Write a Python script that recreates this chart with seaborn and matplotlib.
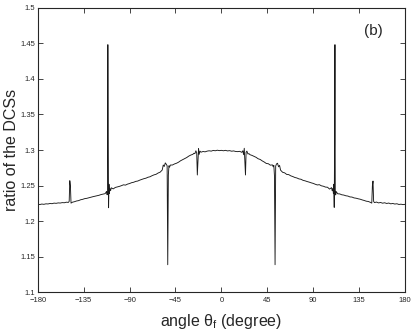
import numpy as np
import pandas as pd
import seaborn as sns
import matplotlib
matplotlib.use("Agg")
import matplotlib.pyplot as plt

sns.set_style("ticks")
plt.rcParams['font.family'] = ['Liberation Sans', 'DejaVu Sans']
plt.rcParams['mathtext.fontset'] = 'custom'
plt.rcParams['mathtext.rm'] = 'Liberation Sans'

# angle (degree) and ratio of the DCSs
angle = [
    -180, -178, -176, -174, -172, -170, -168, -166, -164, -162, -160, -158, -156, -154, -152, -150,
    -149.2, -148.6, -148.0, -147.4, -146, -144, -142, -140, -138, -136, -134, -132, -130, -128,
    -126, -124, -122, -120, -118, -116, -114, -112.5, -112, -111.6, -111.3, -111.0, -110.6, -110.2,
    -109.8, -109.3, -108.6, -108, -106, -104, -102, -100, -98, -96, -94, -92, -90, -88, -86, -84,
    -82, -80, -78, -76, -74, -72, -70, -68, -66, -64, -62, -60, -58, -57, -56, -55, -54, -53.2,
    -52.6, -52.0, -51.4, -50.8, -50, -48, -46, -44, -42, -40, -38, -36, -34, -32, -30, -28, -27,
    -26, -25, -24.2, -23.6, -23.0, -22.4, -21.8, -21, -20, -18, -16, -14, -12, -10, -8, -6, -4,
    -2, 0,
    2, 4, 6, 8, 10, 12, 14, 16, 18, 20, 21, 21.8, 22.4, 23.0, 23.6, 24.2, 25, 26, 27, 28, 30, 32,
    34, 36, 38, 40, 42, 44, 46, 48, 50, 50.8, 51.4, 52.0, 52.6, 53.2, 54, 55, 56, 57, 58, 60, 62,
    64, 66, 68, 70, 72, 74, 76, 78, 80, 82, 84, 86, 88, 90, 92, 94, 96, 98, 100, 102, 104, 106,
    108, 108.6, 109.3, 109.8, 110.2, 110.6, 111.0, 111.3, 111.6, 112, 112.5, 114, 116, 118, 120,
    122, 124, 126, 128, 130, 132, 134, 136, 138, 140, 142, 144, 146, 147.4, 148.0, 148.6, 149.2,
    150, 152, 154, 156, 158, 160, 162, 164, 166, 168, 170, 172, 174, 176, 178, 180,
]
ratio = [
    1.2240, 1.2235, 1.2242, 1.2238, 1.2245, 1.2243, 1.2250, 1.2247, 1.2255, 1.2252, 1.2258, 1.2256,
    1.2262, 1.2260, 1.2268, 1.2265, 1.2280, 1.2570, 1.2500, 1.2255, 1.2268, 1.2275, 1.2285, 1.2290,
    1.2302, 1.2308, 1.2318, 1.2322, 1.2330, 1.2338, 1.2345, 1.2352, 1.2360, 1.2365, 1.2375, 1.2382,
    1.2388, 1.2420, 1.2372, 1.2440, 1.4480, 1.3200, 1.2190, 1.2520, 1.2390, 1.2460, 1.2430, 1.2470,
    1.2455, 1.2475, 1.2482, 1.2490, 1.2500, 1.2512, 1.2508, 1.2522, 1.2530, 1.2542, 1.2548, 1.2560,
    1.2565, 1.2578, 1.2588, 1.2598, 1.2605, 1.2618, 1.2625, 1.2640, 1.2652, 1.2660, 1.2678, 1.2690,
    1.2720, 1.2790, 1.2770, 1.2820, 1.2800, 1.2780, 1.1390, 1.2650, 1.2780, 1.2760, 1.2790, 1.2790,
    1.2805, 1.2815, 1.2830, 1.2850, 1.2865, 1.2880, 1.2895, 1.2915, 1.2930, 1.2940, 1.2955, 1.2950,
    1.2990, 1.2960, 1.2650, 1.2850, 1.3020, 1.2940, 1.2985, 1.2970, 1.2980, 1.2975, 1.2985, 1.2990,
    1.2985, 1.2995, 1.2990, 1.2998, 1.2992, 1.2996,
    1.2990, 1.2996, 1.2988, 1.2992, 1.2984, 1.2988, 1.2980, 1.2978, 1.2982, 1.2968, 1.2990, 1.2935,
    1.3025, 1.2840, 1.2650, 1.2970, 1.2985, 1.2945, 1.2950, 1.2935, 1.2925, 1.2912, 1.2898, 1.2878,
    1.2868, 1.2848, 1.2832, 1.2812, 1.2808, 1.2788, 1.2792, 1.2765, 1.2785, 1.2640, 1.1390, 1.2775,
    1.2805, 1.2815, 1.2765, 1.2785, 1.2718, 1.2688, 1.2680, 1.2658, 1.2655, 1.2638, 1.2628, 1.2615,
    1.2608, 1.2595, 1.2590, 1.2575, 1.2568, 1.2558, 1.2550, 1.2540, 1.2532, 1.2520, 1.2510, 1.2514,
    1.2498, 1.2492, 1.2480, 1.2478, 1.2452, 1.2472, 1.2428, 1.2462, 1.2388, 1.2520, 1.2195, 1.3200,
    1.4480, 1.2440, 1.2370, 1.2418, 1.2386, 1.2384, 1.2372, 1.2368, 1.2358, 1.2354, 1.2342, 1.2340,
    1.2328, 1.2324, 1.2316, 1.2310, 1.2300, 1.2292, 1.2282, 1.2278, 1.2266, 1.2255, 1.2500, 1.2565,
    1.2280, 1.2262, 1.2270, 1.2258, 1.2264, 1.2254, 1.2260, 1.2250, 1.2256, 1.2245, 1.2250, 1.2242,
    1.2246, 1.2236, 1.2240, 1.2234, 1.2238,
]

xticks = [-180, -135, -90, -45, 0, 45, 90, 135, 180]
yticks = [1.1, 1.15, 1.2, 1.25, 1.3, 1.35, 1.4, 1.45, 1.5]
yticklabels = ["1.1", "1.15", "1.2", "1.25", "1.3", "1.35", "1.4", "1.45", "1.5"]

df = pd.DataFrame({"angle": angle, "ratio": ratio})

fig = plt.figure(figsize=(4.15, 3.32), dpi=100)
ax = fig.add_axes([0.091, 0.119, 0.885, 0.858])

sns.lineplot(data=df, x="angle", y="ratio", ax=ax, estimator=None, sort=False,
             color="#1a1a1a", linewidth=0.65)

ax.set_xlim(-180, 180)
ax.set_ylim(1.1, 1.5)
ax.set_xticks(xticks)
ax.set_xticklabels([str(t).replace("-", "\u2212") for t in xticks])
ax.set_yticks(yticks)
ax.set_yticklabels(yticklabels)
ax.tick_params(direction="in", length=3.5, width=0.6, labelsize=5.5, top=True, right=True, pad=2)
ax.tick_params(axis="x", pad=3.5)
for s in ax.spines.values():
    s.set_linewidth(0.8)

ax.set_xlabel("angle θ$_{\\mathrm{f}}$ (degree)", fontsize=11.5)
ax.set_ylabel("ratio of the DCSs", fontsize=11.5)
ax.yaxis.set_label_coords(-0.05, 0.5)
ax.xaxis.set_label_coords(0.5, -0.07)
ax.text(148.7, 1.467, "(b)", fontsize=11, ha="center", va="center")

fig.savefig("out.png", dpi=100)
